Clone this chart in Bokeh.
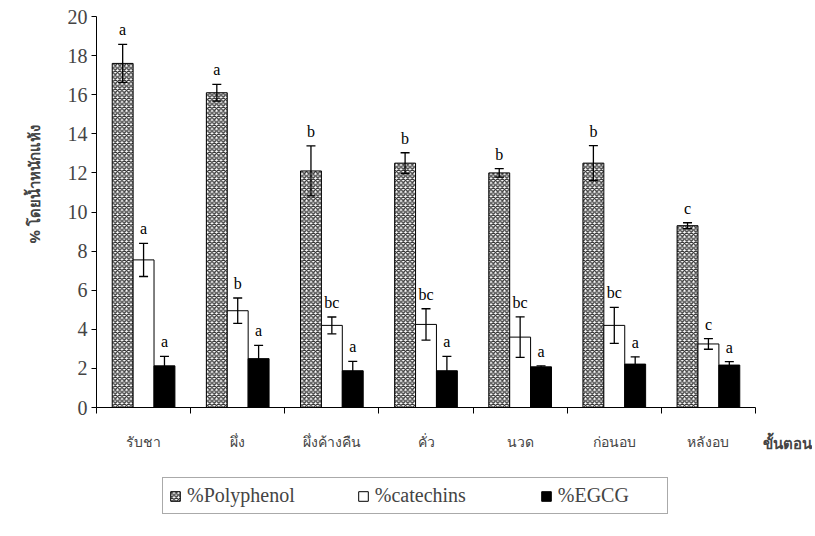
import numpy as np
from bokeh.plotting import figure
from bokeh.layouts import column
from bokeh.models import (ColumnDataSource, Whisker, TeeHead, FixedTicker, Legend,
                          LegendItem, Range1d, Title)
from bokeh.embed import file_html
from bokeh.resources import INLINE

stages = ["รับชา", "ผึ่ง", "ผึ่งค้างคืน", "คั่ว", "นวด", "ก่อนอบ", "หลังอบ"]
polyphenol = [17.6, 16.1, 12.1, 12.5, 12.0, 12.5, 9.3]
poly_err = [0.97, 0.43, 1.28, 0.53, 0.22, 0.9, 0.15]
poly_letters = ["a", "a", "b", "b", "b", "b", "c"]
catechins = [7.55, 4.95, 4.2, 4.25, 3.6, 4.2, 3.25]
cat_err = [0.85, 0.65, 0.43, 0.8, 1.04, 0.92, 0.27]
cat_letters = ["a", "b", "bc", "bc", "bc", "bc", "c"]
egcg = [2.13, 2.5, 1.88, 1.88, 2.08, 2.22, 2.17]
egcg_err = [0.48, 0.68, 0.48, 0.73, 0.05, 0.37, 0.18]
egcg_letters = ["a", "a", "a", "a", "a", "a", "a"]
series_names = ["%Polyphenol", "%catechins", "%EGCG"]
y_ticks = [0, 2, 4, 6, 8, 10, 12, 14, 16, 18, 20]

SERIF = "Liberation Serif"
THAI = "Noto Sans"

p = figure(width=812, height=462, output_backend="svg", toolbar_location=None,
           x_range=Range1d(0, 7), y_range=Range1d(0, 20),
           min_border_left=96, min_border_right=57, min_border_top=16, min_border_bottom=55)
p.outline_line_color = None
p.grid.visible = False

W = 0.222
centers = np.arange(len(stages)) + 0.5
series = [
    (polyphenol, poly_err, poly_letters, -W),
    (catechins, cat_err, cat_letters, 0.0),
    (egcg, egcg_err, egcg_letters, W),
]
styles = [
    dict(fill_color="white", hatch_pattern="diagonal_cross", hatch_color="#333333",
         hatch_scale=4.5, hatch_weight=1.3, line_color="black", line_width=1),
    dict(fill_color="white", line_color="black", line_width=1),
    dict(fill_color="black", line_color="black", line_width=1),
]
for (vals, errs, letters, off), st in zip(series, styles):
    v = np.array(vals)
    e = np.array(errs)
    src = ColumnDataSource(dict(x=centers + off, top=v, upper=v + e, lower=v - e,
                                lab=letters))
    p.vbar(x="x", top="top", width=W, source=src, **st)
    wh = Whisker(source=src, base="x", upper="upper", lower="lower",
                 line_color="black", line_width=1.3, level="overlay",
                 upper_head=TeeHead(size=9, line_width=1.3, line_color="black"),
                 lower_head=TeeHead(size=9, line_width=1.3, line_color="black"))
    p.add_layout(wh)
    p.text(x="x", y="upper", text="lab", source=src, text_align="center",
           text_baseline="bottom", y_offset=-6, text_font_size="16px",
           text_font={"value": SERIF}, text_color="black")

# axes
p.yaxis.ticker = FixedTicker(ticks=y_ticks, minor_ticks=[])
p.yaxis.major_label_text_font = SERIF
p.yaxis.major_label_text_font_size = "20px"
p.yaxis.major_tick_out = 5
p.yaxis.major_tick_in = 0
p.yaxis.axis_line_color = "black"
p.yaxis.major_tick_line_color = "black"
p.yaxis.major_label_standoff = 4

p.xaxis.ticker = FixedTicker(ticks=list(centers), minor_ticks=list(range(len(stages) + 1)))
p.xaxis.major_label_overrides = {float(c): s for c, s in zip(centers, stages)}
p.xaxis.major_tick_out = 0
p.xaxis.major_tick_in = 0
p.xaxis.minor_tick_out = 6
p.xaxis.minor_tick_in = 0
p.xaxis.minor_tick_line_color = "black"
p.xaxis.axis_line_color = "black"
p.xaxis.major_label_text_font = THAI
p.xaxis.major_label_text_font_size = "14px"
p.xaxis.major_label_standoff = 18

p.add_layout(Title(text="ขั้นตอน", align="right", offset=-56, standoff=-42,
                   vertical_align="top",
                   text_font=THAI, text_font_size="15px", text_font_style="bold"), "below")
p.add_layout(Title(text="% โดยน้ำหนักแห้ง", align="left", offset=164, standoff=41,
                   text_font=THAI, text_font_size="15px", text_font_style="bold"), "left")

# legend figure
p2 = figure(width=812, height=68, output_backend="svg", toolbar_location=None,
            x_range=Range1d(0, 1), y_range=Range1d(0, 1),
            min_border_left=0, min_border_right=0, min_border_top=0, min_border_bottom=0)
p2.axis.visible = False
p2.grid.visible = False
p2.outline_line_color = None
items = []
for name, st in zip(series_names, styles):
    r = p2.vbar(x=[0.5], top=[0.0], bottom=[0.0], width=0.0, **st)
    items.append(LegendItem(label=name, renderers=[r]))
legend = Legend(items=items, orientation="horizontal", location=(66, 16),
                glyph_width=12, glyph_height=12, label_standoff=6, spacing=62,
                label_width=103, padding=6, margin=0, border_line_color="#555555",
                border_line_width=1.2, background_fill_alpha=1)
legend.label_text_font = SERIF
legend.label_text_font_size = "20px"
p2.add_layout(legend)

open("out.html", "w").write(file_html(column(p, p2, spacing=0), INLINE))
